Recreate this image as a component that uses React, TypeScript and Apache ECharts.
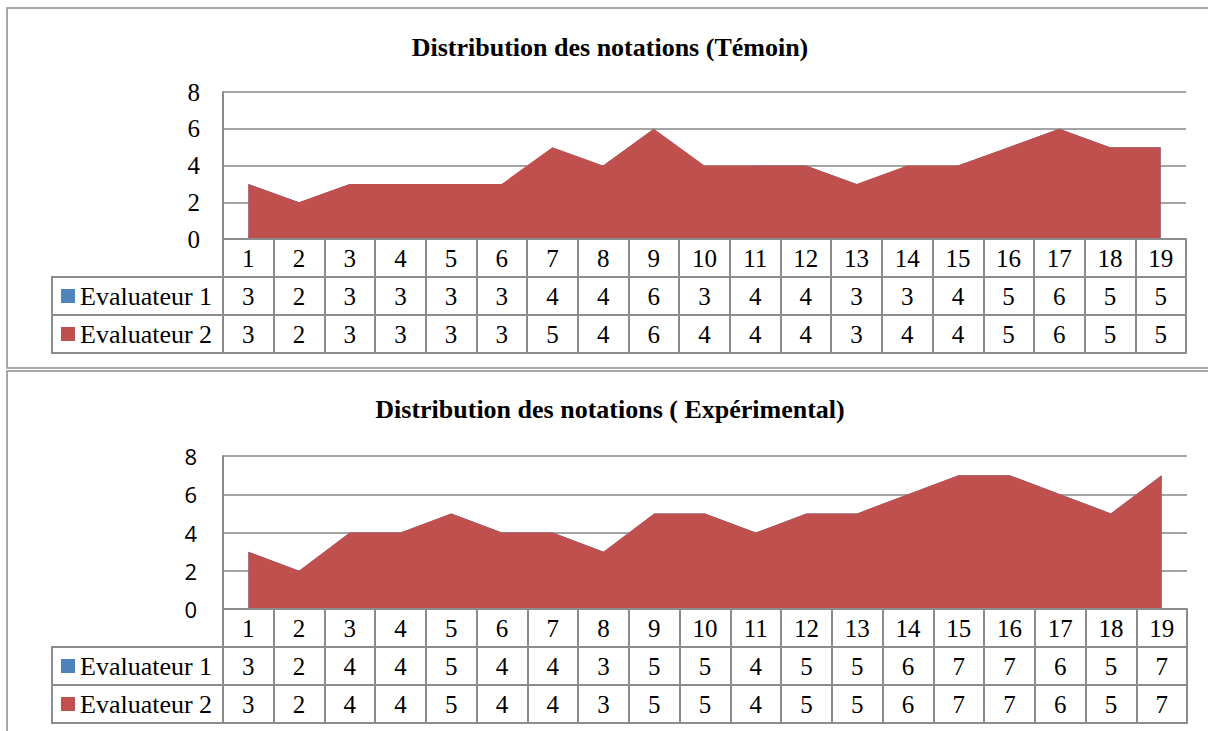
import React, { useEffect, useRef } from "react";
import * as echarts from "echarts";

const categories = ["1", "2", "3", "4", "5", "6", "7", "8", "9", "10", "11", "12", "13", "14", "15", "16", "17", "18", "19"];
const temoinEval1 = [3, 2, 3, 3, 3, 3, 4, 4, 6, 3, 4, 4, 3, 3, 4, 5, 6, 5, 5];
const temoinEval2 = [3, 2, 3, 3, 3, 3, 5, 4, 6, 4, 4, 4, 3, 4, 4, 5, 6, 5, 5];
const expEval1 = [3, 2, 4, 4, 5, 4, 4, 3, 5, 5, 4, 5, 5, 6, 7, 7, 6, 5, 7];
const expEval2 = [3, 2, 4, 4, 5, 4, 4, 3, 5, 5, 4, 5, 5, 6, 7, 7, 6, 5, 7];
const seriesNames = ["Evaluateur 1", "Evaluateur 2"];
const titles = ["Distribution des notations (Témoin)", "Distribution des notations ( Expérimental)"];
const yMin = 0;
const yMax = 8;
const yInterval = 2;

const SERIF = "'Liberation Serif', 'Times New Roman', serif";
const SANS = "'Open Sans', 'Noto Sans', sans-serif";
const GRID_COLOR = "#868686";
const BORDER = "#8c8c8c";
const COLORS = ["#4F81BD", "#C0504D"];

type Layout = {
  top: number;
  height: number;
  left: number;
  width: number;
  rowH: number;
  titleTop: number;
  legendTop: number;
  yMargin: number;
  yFont: string;
  yFontSize: number;
  panelY: number;
  panelH: number;
};

const layouts: Layout[] = [
  { top: 92, height: 147, left: 223, width: 963, rowH: 38, titleTop: 34, legendTop: 283, yMargin: 23, yFont: SERIF, yFontSize: 25, panelY: 8, panelH: 360 },
  { top: 456, height: 153, left: 223, width: 964, rowH: 38, titleTop: 396, legendTop: 653, yMargin: 26, yFont: SANS, yFontSize: 22, panelY: 371, panelH: 420 },
];

const panelData = [
  [temoinEval1, temoinEval2],
  [expEval1, expEval2],
];

function buildOption() {
  const grid: any[] = [];
  const xAxis: any[] = [];
  const yAxis: any[] = [];
  const series: any[] = [];
  const title: any[] = [];
  const legend: any[] = [];
  const graphic: any[] = [];

  layouts.forEach((L, p) => {
    const data = panelData[p];
    grid.push({ left: L.left, top: L.top, width: L.width, height: L.height, containLabel: false });
    const rows: (number[] | null)[] = [null, data[0], data[1], null];
    [0, 1, 2, 3].forEach((k) => {
      xAxis.push({
        type: "category",
        gridIndex: p,
        data: categories,
        position: "bottom",
        offset: k * L.rowH,
        boundaryGap: true,
        z: 5,
        axisLine: { show: true, onZero: false, lineStyle: { color: BORDER, width: 2 } },
        axisTick: { show: k < 3, length: L.rowH, interval: 0, lineStyle: { color: BORDER, width: 2 } },
        axisLabel: {
          show: k < 3,
          interval: 0,
          margin: L.rowH / 2,
          verticalAlign: "middle",
          color: "#000",
          fontFamily: SERIF,
          fontSize: 25,
          formatter: (v: string, i: number) => (k === 0 ? v : String((rows[k] as number[])[i])),
        },
        splitLine: { show: false },
      });
    });
    yAxis.push({
      type: "value",
      gridIndex: p,
      min: yMin,
      max: yMax,
      interval: yInterval,
      axisLine: { show: true, lineStyle: { color: BORDER, width: 2 } },
      axisTick: { show: false },
      splitLine: { show: true, lineStyle: { color: GRID_COLOR, width: 1.5 } },
      axisLabel: { margin: L.yMargin, color: "#000", fontFamily: L.yFont, fontSize: L.yFontSize },
    });
    seriesNames.forEach((name, s) => {
      series.push({
        type: "line",
        name,
        xAxisIndex: p * 4,
        yAxisIndex: p,
        data: data[s],
        symbol: "none",
        showSymbol: false,
        lineStyle: { width: 0 },
        itemStyle: { color: COLORS[s] },
        areaStyle: { color: COLORS[s], opacity: 1 },
        z: 2 + s,
      });
    });
    title.push({
      text: titles[p],
      left: 610,
      top: L.titleTop,
      textAlign: "center",
      padding: 0,
      textStyle: { fontFamily: SERIF, fontWeight: "bold", fontSize: 26, color: "#000" },
    });
    legend.push({
      orient: "vertical",
      left: 61,
      top: L.legendTop,
      padding: 0,
      itemGap: L.rowH - 26,
      itemWidth: 14,
      itemHeight: 14,
      icon: "rect",
      selectedMode: false,
      data: seriesNames,
      textStyle: { fontFamily: SERIF, fontSize: 26, color: "#000" },
    });
    const tableTop = L.top + L.height + L.rowH;
    graphic.push({
      type: "rect",
      silent: true,
      z: -10,
      shape: { x: 7, y: L.panelY, width: 1230, height: L.panelH },
      style: { fill: "#fff", stroke: BORDER, lineWidth: 1.5 },
    });
    graphic.push({
      type: "rect",
      silent: true,
      z: 10,
      shape: { x: 52, y: tableTop, width: L.left - 52, height: L.rowH * 2 },
      style: { fill: "none", stroke: BORDER, lineWidth: 2 },
    });
    graphic.push({
      type: "line",
      silent: true,
      z: 10,
      shape: { x1: 52, y1: tableTop + L.rowH, x2: L.left, y2: tableTop + L.rowH },
      style: { stroke: BORDER, lineWidth: 2 },
    });
  });

  return {
    animation: false,
    backgroundColor: "#fff",
    color: COLORS,
    title,
    legend,
    grid,
    xAxis,
    yAxis,
    series,
    graphic,
  };
}

export default function App() {
  const ref = useRef<HTMLDivElement>(null);
  useEffect(() => {
    if (!ref.current) return;
    const chart = echarts.init(ref.current, null, { renderer: "svg" });
    chart.setOption(buildOption() as any);
    return () => chart.dispose();
  }, []);
  return (
    <div
      ref={ref}
      style={{ position: "absolute", left: 0, top: 0, width: 1208, height: 731, background: "#fff" }}
    />
  );
}
